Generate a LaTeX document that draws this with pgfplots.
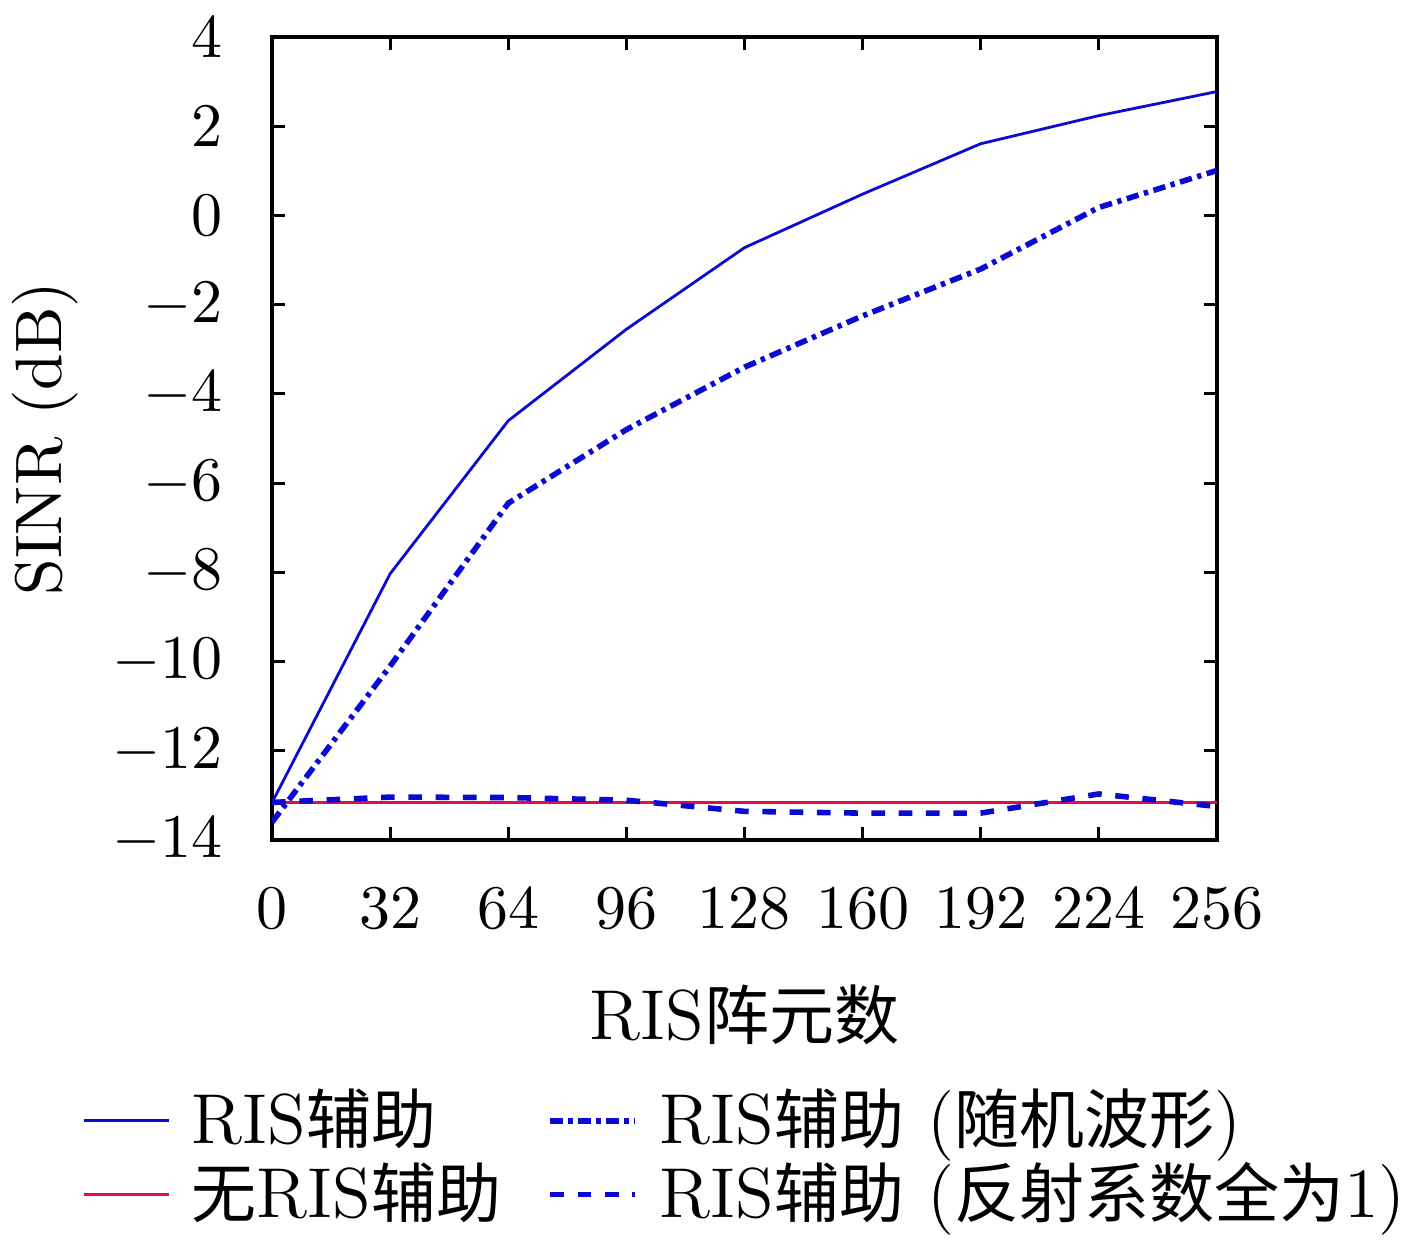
\documentclass[border=0pt]{standalone}
\usepackage{fontspec}
\newfontfamily\cjk[Scale=0.92]{Noto Sans CJK SC}
\usepackage{pgfplots}
\pgfplotsset{compat=1.18}
\definecolor{cblue}{RGB}{10,10,210}
\definecolor{cred}{RGB}{225,15,70}
\begin{document}
\begin{tikzpicture}
\useasboundingbox (-43.9pt,-65pt) rectangle (184.7pt,135.5pt);
\begin{axis}[
  scale only axis,
  width=152.4pt, height=129.5pt,
  xmin=0, xmax=256, ymin=-14, ymax=4,
  xtick={0,32,64,96,128,160,192,224,256},
  ytick={-14,-12,...,4},
  tick align=inside,
  major tick length=2pt,
  axis line style={line width=0.6pt},
  every tick/.style={black, line width=0.5pt},
  xticklabel style={anchor=base, yshift=-14.3pt},
  yticklabel style={xshift=-4.4pt},
  xlabel={RIS{\cjk 阵元数}},
  ylabel={SINR (dB)},
  xlabel style={at={(axis description cs:0.5,-0.218)}, anchor=center, font=\fontsize{11.4pt}{13pt}\selectfont},
  ylabel style={at={(axis description cs:-0.240,0.5)}, anchor=center, font=\fontsize{10.6pt}{13pt}\selectfont},
  legend columns=2,
  legend style={draw=none, fill=none, at={(axis description cs:0.511,-0.396)}, anchor=center,
    font=\fontsize{11.4pt}{13pt}\selectfont,
    nodes={inner ysep=0.5pt, inner xsep=3.5pt}, row sep=0.5pt,
    /tikz/every even column/.append style={column sep=4pt}},
  legend cell align=left,
  legend image code/.code={\draw[#1] plot coordinates {(0pt,0pt) (13.7pt,0pt)};},
]
\addplot[cblue, line width=0.45pt] coordinates {
(0,-13.16) (32,-8.03) (64,-4.6) (96,-2.55) (128,-0.72) (160,0.48) (192,1.61) (224,2.24) (256,2.78)};
\addlegendentry{RIS{\cjk 辅助}}
\addplot[cblue, line width=0.9pt, dash pattern=on 2pt off 0.9pt on 0.7pt off 0.9pt] coordinates {
(0,-13.6) (32,-10.1) (64,-6.45) (96,-4.8) (128,-3.4) (160,-2.25) (192,-1.2) (224,0.18) (256,1.01)};
\addlegendentry{RIS{\cjk 辅助} ({\cjk 随机波形})}
\addplot[cred, line width=0.5pt] coordinates {
(0,-13.16) (256,-13.16)};
\addlegendentry{{\cjk 无}RIS{\cjk 辅助}}
\addplot[cblue, line width=0.9pt, dash pattern=on 2.2pt off 2.2pt] coordinates {
(0,-13.16) (32,-13.04) (64,-13.05) (96,-13.11) (128,-13.36) (160,-13.4) (192,-13.4) (224,-12.97) (256,-13.25)};
\addlegendentry{RIS{\cjk 辅助} ({\cjk 反射系数全为}1)}
\end{axis}
\end{tikzpicture}
\end{document}
